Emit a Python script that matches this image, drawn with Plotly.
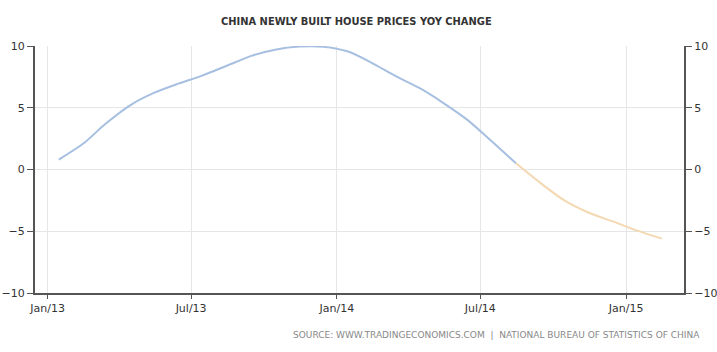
import plotly.graph_objects as go
import pandas as pd

# Monthly YoY change (%), Jan 2013 - Feb 2015
months = pd.date_range("2013-01-01", periods=26, freq="MS") + pd.Timedelta(days=14)
values = [0.8, 2.1, 3.7, 5.2, 6.2, 6.95, 7.6, 8.4, 9.2, 9.7, 9.95, 9.93,
          9.55, 8.6, 7.6, 6.6, 5.4, 4.0, 2.3, 0.5, -1.1, -2.5, -3.5, -4.2,
          -4.95, -5.6]
tick_dates = ["2013-01-01", "2013-07-01", "2014-01-01", "2014-07-01", "2015-01-01"]
tick_labels = ["Jan/13", "Jul/13", "Jan/14", "Jul/14", "Jan/15"]
y_ticks = [-10, -5, 0, 5, 10]
title = "CHINA NEWLY BUILT HOUSE PRICES YOY CHANGE"
source = "SOURCE: WWW.TRADINGECONOMICS.COM  |  NATIONAL BUREAU OF STATISTICS OF CHINA"

split = 19  # where line turns from blue to orange
dates = [d.strftime("%Y-%m-%d") for d in months]

fig = go.Figure()
fig.add_trace(go.Scatter(x=dates[:split + 1], y=values[:split + 1], mode="lines",
                         line=dict(color="#a7bfe0", width=2, shape="spline", smoothing=0.8),
                         hoverinfo="x+y", showlegend=False))
fig.add_trace(go.Scatter(x=dates[split:], y=values[split:], mode="lines",
                         line=dict(color="#f3d8b2", width=2, shape="spline", smoothing=0.8),
                         hoverinfo="x+y", showlegend=False))
# invisible trace to activate right axis
fig.add_trace(go.Scatter(x=[dates[0]], y=[values[0]], yaxis="y2", mode="markers",
                         marker=dict(opacity=0), hoverinfo="skip", showlegend=False))

axis_font = dict(family="DejaVu Sans", size=11, color="#333333")
fig.update_layout(
    width=717, height=352,
    margin=dict(l=35, r=33, t=46, b=59),
    paper_bgcolor="white", plot_bgcolor="white",
    title=dict(text="<b>" + title + "</b>", x=0.497, xanchor="center", y=0.94, yanchor="middle",
               font=dict(family="DejaVu Sans Condensed, DejaVu Sans", size=11, color="#333333")),
    xaxis=dict(type="date", range=["2012-12-16", "2015-03-15"],
               tickvals=tick_dates, ticktext=tick_labels, automargin=False,
               showgrid=True, gridcolor="#e6e6e6", gridwidth=1,
               showline=True, linecolor="#555555", linewidth=2,
               ticks="outside", ticklen=4, tickcolor="#555555", tickwidth=1,
               tickfont=axis_font, zeroline=False),
    yaxis=dict(range=[-10, 10], tickvals=y_ticks, automargin=False,
               showgrid=True, gridcolor="#e6e6e6", gridwidth=1,
               showline=True, linecolor="#555555", linewidth=2,
               ticks="outside", ticklen=6, tickcolor="#555555",
               tickfont=axis_font, zeroline=False),
    yaxis2=dict(range=[-10, 10], tickvals=y_ticks, overlaying="y", side="right",
                automargin=False,
                showgrid=False, showline=True, linecolor="#555555", linewidth=2,
                ticks="outside", ticklen=6, tickcolor="#555555",
                tickfont=axis_font, zeroline=False),
    annotations=[dict(text=source, xref="paper", yref="paper", x=1.028, y=-0.17,
                      xanchor="right", yanchor="middle", showarrow=False,
                      font=dict(family="DejaVu Sans", size=9, color="#888888"))],
)
fig.write_html("out.html")
